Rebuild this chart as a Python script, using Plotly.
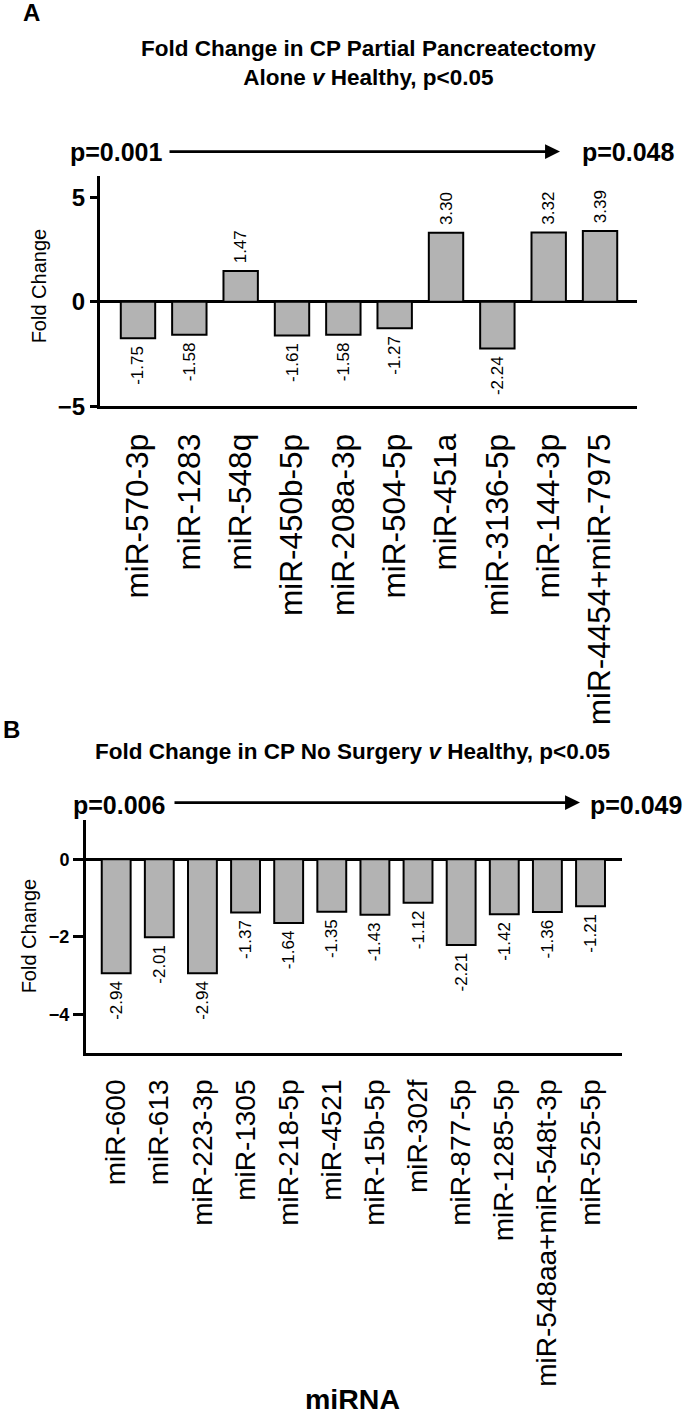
import plotly.graph_objects as go

W, H = 685, 1423

# ---- data ----
a_labels = ["miR-570-3p", "miR-1283", "miR-548q", "miR-450b-5p", "miR-208a-3p",
            "miR-504-5p", "miR-451a", "miR-3136-5p", "miR-144-3p", "miR-4454+miR-7975"]
a_values = [-1.75, -1.58, 1.47, -1.61, -1.58, -1.27, 3.30, -2.24, 3.32, 3.39]

b_labels = ["miR-600", "miR-613", "miR-223-3p", "miR-1305", "miR-218-5p", "miR-4521",
            "miR-15b-5p", "miR-302f", "miR-877-5p", "miR-1285-5p",
            "miR-548aa+miR-548t-3p", "miR-525-5p"]
b_values = [-2.94, -2.01, -2.94, -1.37, -1.64, -1.35, -1.43, -1.12, -2.21, -1.42, -1.36, -1.21]

a_yticks = [-5, 0, 5]
b_yticks = [-4, -2, 0]

FONT = "Liberation Sans, Arial, Helvetica, sans-serif"
NB = "\u00a0"


def px(x):
    return x / W


def py(y):
    return 1 - y / H


def bar_text(values):
    # small padding between the bar end and the rotated value label
    return [(NB + f"{v:.2f}") if v >= 0 else (f"{v:.2f}" + NB) for v in values]


bar_style = dict(marker=dict(color="#b3b3b3", line=dict(color="black", width=2)),
                 width=0.67, textposition="outside",
                 textangle=-90, constraintext="none", cliponaxis=False,
                 outsidetextfont=dict(family=FONT, size=17, color="black"),
                 showlegend=False, hoverinfo="skip")

fig = go.Figure()
fig.add_trace(go.Bar(x=a_labels, y=a_values, text=bar_text(a_values),
                     xaxis="x", yaxis="y", **bar_style))
fig.add_trace(go.Bar(x=b_labels, y=b_values, text=bar_text(b_values),
                     xaxis="x2", yaxis="y2", **bar_style))

axis_common = dict(showgrid=False, showline=True, linecolor="black", linewidth=3,
                   zeroline=False)

fig.update_layout(
    width=W, height=H, margin=dict(l=0, r=0, t=0, b=0),
    paper_bgcolor="white", plot_bgcolor="white",
    font=dict(family=FONT, color="black"),
    xaxis=dict(domain=[px(100), px(637)], anchor="y", range=[-0.74, 9.72],
               tickangle=-90, ticks="", tickfont=dict(size=31.5),
               ticklabelstandoff=12, **axis_common),
    yaxis=dict(domain=[py(410), py(178)], anchor="x", range=[-5, 6],
               tickvals=a_yticks, ticks="outside", ticklen=7, tickwidth=3,
               tickcolor="black", tickfont=dict(size=24, weight="bold"),
               showgrid=False, showline=True, linecolor="black", linewidth=3,
               zeroline=True, zerolinecolor="black", zerolinewidth=3),
    xaxis2=dict(domain=[px(86), px(622)], anchor="y2", range=[-0.70, 11.73],
                tickangle=-90, ticks="", tickfont=dict(size=28),
                ticklabelstandoff=12, **axis_common),
    yaxis2=dict(domain=[py(1063), py(828)], anchor="x2", range=[-5, 1],
                tickvals=b_yticks, ticks="outside", ticklen=10, tickwidth=3,
                tickcolor="black", tickfont=dict(size=18, weight="bold"),
                showgrid=False, showline=True, linecolor="black", linewidth=3,
                zeroline=True, zerolinecolor="black", zerolinewidth=3),
)


def note(text, x, y, size, bold=False, angle=0, xanchor="center"):
    fig.add_annotation(text=text, x=px(x), y=py(y), xref="paper", yref="paper",
                       showarrow=False, xanchor=xanchor, yanchor="middle",
                       textangle=angle,
                       font=dict(family=FONT, size=size, color="black",
                                 weight="bold" if bold else "normal"))


def arrow(x0, x1, y):
    fig.add_annotation(text="", x=px(x1), y=py(y), xref="paper", yref="paper",
                       ax=-(x1 - x0), ay=0, axref="pixel", ayref="pixel",
                       showarrow=True, arrowhead=2, arrowsize=1.15, arrowwidth=2.6,
                       arrowcolor="black", standoff=0, startstandoff=0)


# Panel A
note("A", 32, 13, 24, bold=True)
note("Fold Change in CP Partial Pancreatectomy<br>Alone <i>v</i> Healthy, p&lt;0.05",
     368, 64, 22.5, bold=True)
note("p=0.001", 116.5, 153, 25, bold=True)
note("p=0.048", 628.5, 153, 25, bold=True)
arrow(168, 560, 153)
note("Fold Change", 39, 289, 20, angle=-90)

# Panel B
note("B", 11, 736, 24, bold=True)
note("Fold Change in CP No Surgery <i>v</i> Healthy, p&lt;0.05", 353, 758, 22.5, bold=True)
note("p=0.006", 118.5, 812, 25, bold=True)
note("p=0.049", 636, 812, 25, bold=True)
arrow(173, 580, 810)
note("Fold Change", 29, 945, 20, angle=-90)
note("miRNA", 352, 1412, 28.5, bold=True)

fig.write_html("out.html",
               config={"displayModeBar": False},
               post_script="document.body.style.margin='0';"
                           "document.body.style.overflow='hidden';")
